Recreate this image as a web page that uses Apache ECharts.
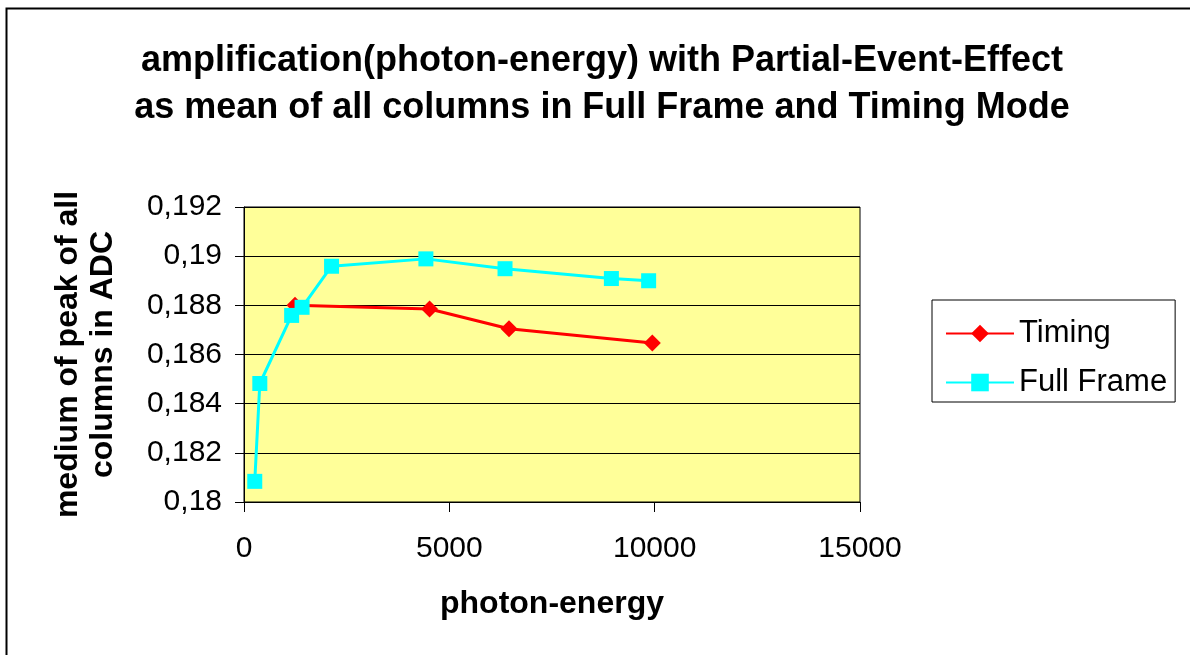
<!DOCTYPE html>
<html>
<head>
<meta charset="utf-8">
<script src="https://cdn.jsdelivr.net/npm/echarts@6/dist/echarts.min.js"></script>
<style>
html,body{margin:0;padding:0;background:#fff;}
#chart{width:1190px;height:655px;}
</style>
</head>
<body>
<div id="chart"></div>
<script>
const titleLines = ['amplification(photon-energy) with Partial-Event-Effect', 'as mean of all columns in Full Frame and Timing Mode'];
const xAxisName = 'photon-energy';
const yAxisName = 'medium of peak of all\ncolumns in ADC';
const seriesNames = ['Timing', 'Full Frame'];

const timingX = [1242, 4518, 6453, 9943];
const timingY = [0.18800, 0.18785, 0.18705, 0.18647];

const fullFrameX = [262, 385, 1160, 1414, 2132, 4429, 6356, 8946, 9853];
const fullFrameY = [0.18084, 0.18482, 0.18759, 0.18792, 0.18959, 0.18989, 0.18949, 0.18909, 0.18900];

const xMin = 0, xMax = 15000, xStep = 5000;
const yMin = 0.180, yMax = 0.192, yStep = 0.002;

const pairs = (xs, ys) => xs.map((x, i) => [x, ys[i]]);
const fmtY = v => String(+(+v).toFixed(3)).replace('.', ',');
const fmtX = v => String(Math.round(v));

const chart = echarts.init(document.getElementById('chart'), null, {renderer: 'canvas'});
const FONT = '"Liberation Sans", Arial, sans-serif';

chart.setOption({
  animation: false,
  backgroundColor: '#ffffff',
  textStyle: {fontFamily: FONT},
  graphic: [{
    type: 'rect', left: 4, top: 6, silent: true,
    shape: {width: 1200, height: 700},
    style: {fill: 'none', stroke: '#000', lineWidth: 2}
  }],
  title: {
    text: titleLines.join('\n'),
    left: 597,
    textAlign: 'center',
    top: 33,
    textStyle: {fontFamily: FONT, fontSize: 36, fontWeight: 'bold', color: '#000', lineHeight: 47}
  },
  grid: {
    left: 244, top: 207, right: 330, bottom: 153,
    show: true, backgroundColor: '#FFFF99', borderColor: '#000', borderWidth: 1,
    containLabel: false
  },
  legend: {
    orient: 'vertical',
    left: 932, top: 300,
    padding: [18, 8, 4, 13],
    itemGap: 18,
    itemWidth: 68, itemHeight: 22,
    borderColor: '#000', borderWidth: 1,
    backgroundColor: '#fff',
    textStyle: {fontFamily: FONT, fontSize: 31, color: '#000', lineHeight: 31},
    data: seriesNames
  },
  xAxis: {
    type: 'value', min: xMin, max: xMax, interval: xStep,
    name: xAxisName, nameLocation: 'middle', nameGap: 86,
    nameTextStyle: {fontFamily: FONT, fontSize: 32, fontWeight: 'bold', color: '#000'},
    axisLine: {show: true, onZero: false, lineStyle: {color: '#000', width: 1}},
    axisTick: {show: true, inside: false, length: 10, lineStyle: {color: '#000'}},
    axisLabel: {fontFamily: FONT, fontSize: 30, color: '#000', margin: 32, formatter: fmtX},
    splitLine: {show: false}
  },
  yAxis: {
    type: 'value', min: yMin, max: yMax, interval: yStep,
    name: yAxisName, nameLocation: 'middle', nameGap: 123, nameRotate: 90,
    nameTextStyle: {fontFamily: FONT, fontSize: 32, fontWeight: 'bold', color: '#000', lineHeight: 35, align: 'center'},
    axisLine: {show: true, lineStyle: {color: '#000', width: 1}},
    axisTick: {show: true, inside: false, length: 9, lineStyle: {color: '#000'}},
    axisLabel: {fontFamily: FONT, fontSize: 30, color: '#000', margin: 22, formatter: fmtY},
    splitLine: {show: true, lineStyle: {color: '#000', width: 1}}
  },
  series: [
    {
      name: seriesNames[0], type: 'line', data: pairs(timingX, timingY),
      symbol: 'diamond', symbolSize: 17, showAllSymbol: true,
      itemStyle: {color: '#FF0000'},
      lineStyle: {color: '#FF0000', width: 3}, z: 2
    },
    {
      name: seriesNames[1], type: 'line', data: pairs(fullFrameX, fullFrameY),
      symbol: 'rect', symbolSize: 15, showAllSymbol: true,
      itemStyle: {color: '#00FFFF'},
      lineStyle: {color: '#00FFFF', width: 3}, z: 3
    }
  ]
});
</script>
</body>
</html>
